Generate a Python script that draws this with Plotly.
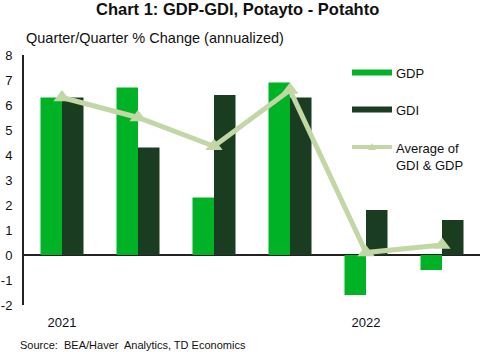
import plotly.graph_objects as go

quarters = ["2021 Q1", "2021 Q2", "2021 Q3", "2021 Q4", "2022 Q1", "2022 Q2"]
tick_labels = ["2021", "", "", "", "2022", ""]
gdp = [6.3, 6.7, 2.3, 6.9, -1.6, -0.6]
gdi = [6.3, 4.3, 6.4, 6.3, 1.8, 1.4]
avg = [6.3, 5.5, 4.35, 6.6, 0.1, 0.4]
y_ticks = [-2, -1, 0, 1, 2, 3, 4, 5, 6, 7, 8]
y_tick_labels = ["-2", "-1", "0", "1", "2", "3", "4", "5", "6", "7", "8"]

C_GDP = "#00B326"
C_GDI = "#1A3D22"
C_AVG = "#C3D7A6"
FONT = "Arial, Liberation Sans, sans-serif"

x = list(range(len(quarters)))

fig = go.Figure()
fig.add_trace(go.Bar(x=x, y=gdp, name="GDP", marker=dict(color=C_GDP, line=dict(width=0))))
fig.add_trace(go.Bar(x=x, y=gdi, name="GDI", marker=dict(color=C_GDI, line=dict(width=0))))
fig.add_trace(go.Scatter(x=x, y=avg, name="Average of GDI & GDP", mode="lines+markers",
                         line=dict(color=C_AVG, width=5),
                         marker=dict(symbol="triangle-up", size=15, color=C_AVG)))

# plot area in pixels: x 24..480, y 55..305
L, R, T, B = 24, 480, 55, 305
def px(xp):
    return (xp - L) / (R - L)
def py(yp):
    return (B - yp) / (B - T)

shapes = []
annotations = []
legend_items = [
    ("GDP", C_GDP, 72.5, 6),
    ("GDI", C_GDI, 109.5, 6),
    ("Average of<br>GDI & GDP", C_AVG, 147, 4),
]
for text, col, yc, th in legend_items:
    shapes.append(dict(type="rect", xref="paper", yref="paper",
                       x0=px(352), x1=px(392), y0=py(yc + th / 2), y1=py(yc - th / 2),
                       fillcolor=col, line=dict(width=0), layer="above"))
    annotations.append(dict(text=text, xref="paper", yref="paper", x=px(394), y=py(yc - 8.5),
                            xanchor="left", yanchor="top", showarrow=False, align="left",
                            font=dict(family=FONT, size=13, color="#111")))
# small triangle marker in average swatch
tx, ty = 372, 147
shapes.append(dict(type="path", xref="paper", yref="paper",
                   path=f"M {px(tx-4)} {py(ty+3)} L {px(tx+4)} {py(ty+3)} L {px(tx)} {py(ty-4)} Z",
                   fillcolor=C_AVG, line=dict(width=0), layer="above"))

annotations.append(dict(text="<b>Chart 1: GDP-GDI, Potayto - Potahto</b>", xref="paper", yref="paper",
                        x=px(237), y=py(9), xanchor="center", yanchor="middle", showarrow=False,
                        font=dict(family=FONT, size=16.5, color="#111")))
annotations.append(dict(text="Quarter/Quarter % Change (annualized)", xref="paper", yref="paper",
                        x=px(24), y=py(38.5), xanchor="left", yanchor="middle", showarrow=False,
                        font=dict(family=FONT, size=14.5, color="#111")))
annotations.append(dict(text="Source:  BEA/Haver  Analytics, TD Economics", xref="paper", yref="paper",
                        x=px(18), y=py(345), xanchor="left", yanchor="middle", showarrow=False,
                        font=dict(family=FONT, size=11, color="#111")))

fig.update_layout(
    width=480, height=352,
    margin=dict(l=L, r=480 - R, t=T, b=352 - B),
    paper_bgcolor="white", plot_bgcolor="white",
    barmode="group", bargap=0.434, bargroupgap=0,
    showlegend=False,
    font=dict(family=FONT, size=13, color="#111"),
    shapes=shapes, annotations=annotations,
    xaxis=dict(range=[-0.5, 5.5], tickvals=x, ticktext=tick_labels, showgrid=False,
               showline=False, zeroline=False, ticks="", tickfont=dict(size=13),
               ticklabelstandoff=8, automargin=False),
    yaxis=dict(range=[-2, 8], tickvals=y_ticks, ticktext=y_tick_labels, showgrid=False,
               showline=True, linecolor="#222",
               linewidth=2, zeroline=True, zerolinecolor="#222", zerolinewidth=2,
               ticks="", tickfont=dict(size=13), ticklabelstandoff=7, automargin=False),
)

fig.write_html("out.html")
